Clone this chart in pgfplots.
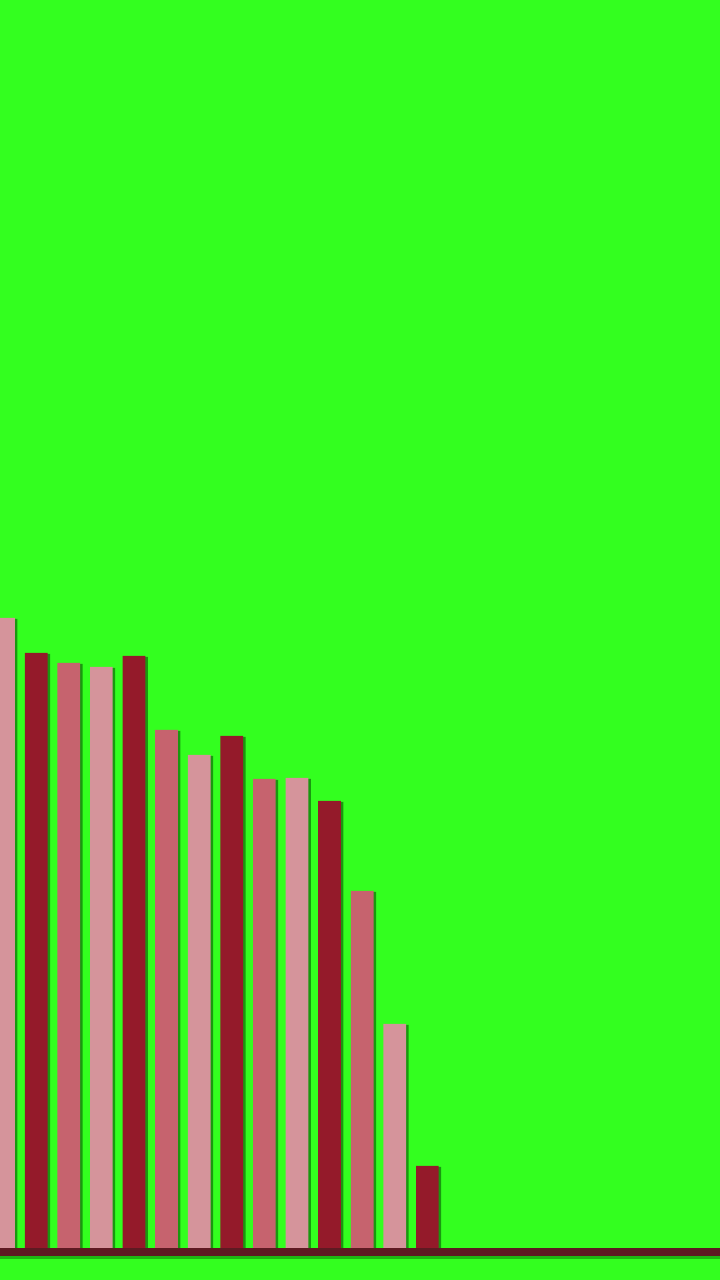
\documentclass[border=0pt]{standalone}
\usepackage{pgfplots}
\pgfplotsset{compat=1.18}
\usetikzlibrary{shadows}

\definecolor{bggreen}{RGB}{51,255,31}
\definecolor{barpink}{RGB}{213,148,155}
\definecolor{bardark}{RGB}{148,26,42}
\definecolor{barrose}{RGB}{198,99,110}
\definecolor{baseline}{RGB}{94,26,34}

\begin{document}
\begin{tikzpicture}
    \begin{axis}[
            scale only axis,
            width=720bp,
            height=1280bp,
            xmin=0, xmax=720,
            ymin=-32, ymax=1248,
            axis line style={draw=none},
            ticks=none,
            axis background/.style={fill=bggreen},
            every axis plot/.append style={
                    bar width=22.7,
                    bar shift=0pt,
                    draw=none,
                },
            barshadow/.style={drop shadow={shadow xshift=2.5bp,
                            shadow yshift=-1bp, opacity=0.5, fill=black!80!green}},
        ]
        % bars come in a repeating cycle of three shades
        \addplot[ybar, fill=barpink, barshadow] coordinates {
                (3.55,630) (101.35,581) (199.15,493) (296.95,470) (394.75,224)
            };
        \addplot[ybar, fill=bardark, barshadow] coordinates {
                (36.15,595) (133.95,592) (231.75,512) (329.55,447) (427.35,82)
            };
        \addplot[ybar, fill=barrose, barshadow] coordinates {
                (68.75,585) (166.55,518) (264.35,469) (362.15,357)
            };
        % shadow under the base line, then the line
        \addplot[draw=black!70!green, opacity=0.4, line width=3bp] coordinates {
                (0,-9.2) (720,-9.2)
            };
        \addplot[draw=baseline, line width=7.7bp] coordinates {
                (0,-3.85) (720,-3.85)
            };
    \end{axis}
\end{tikzpicture}
\end{document}
